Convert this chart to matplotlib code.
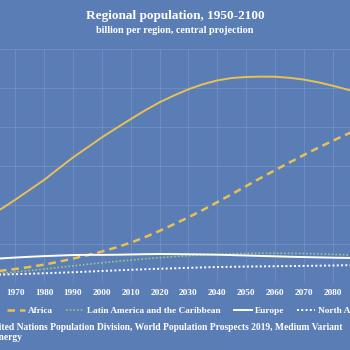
import matplotlib
matplotlib.use("Agg")
import matplotlib.pyplot as plt

years = list(range(1950, 2101, 5))

# billions, UN WPP 2019 medium variant (5-year steps)
asia = [1.405, 1.546, 1.705, 1.900, 2.142, 2.396, 2.650, 2.941, 3.226, 3.482, 3.741,
        3.977, 4.209, 4.434, 4.641, 4.816, 4.974, 5.104, 5.202, 5.264, 5.290, 5.300,
        5.297, 5.270, 5.225, 5.155, 5.067, 4.970, 4.876, 4.790, 4.720]
africa = [0.228, 0.254, 0.283, 0.319, 0.363, 0.415, 0.476, 0.548, 0.630, 0.717, 0.811,
          0.918, 1.039, 1.182, 1.341, 1.512, 1.688, 1.878, 2.077, 2.282, 2.489, 2.696,
          2.897, 3.094, 3.288, 3.474, 3.652, 3.822, 3.983, 4.135, 4.280]
latam = [0.169, 0.193, 0.220, 0.252, 0.287, 0.324, 0.362, 0.402, 0.443, 0.484, 0.522,
         0.558, 0.591, 0.624, 0.654, 0.682, 0.706, 0.726, 0.741, 0.754, 0.762, 0.767,
         0.768, 0.765, 0.759, 0.751, 0.740, 0.726, 0.710, 0.695, 0.680]
europe = [0.549, 0.577, 0.605, 0.635, 0.657, 0.677, 0.694, 0.708, 0.721, 0.727, 0.726,
          0.729, 0.736, 0.743, 0.748, 0.745, 0.741, 0.736, 0.730, 0.720, 0.710, 0.699,
          0.688, 0.678, 0.669, 0.661, 0.653, 0.647, 0.641, 0.635, 0.630]
namerica = [0.173, 0.187, 0.205, 0.219, 0.231, 0.242, 0.254, 0.267, 0.280, 0.296, 0.312,
            0.328, 0.343, 0.357, 0.369, 0.381, 0.393, 0.404, 0.414, 0.420, 0.425, 0.430,
            0.434, 0.438, 0.443, 0.448, 0.453, 0.460, 0.470, 0.480, 0.491]

xticks = list(range(1950, 2101, 10))
yticks = [0, 1, 2, 3, 4, 5, 6]

bg = '#5b7db5'
gold = '#e8c055'
green = '#9cc48a'
serif = 'Liberation Serif'

fig = plt.figure(figsize=(3.5, 3.5), dpi=100, facecolor=bg)
# the plot area runs past the edges of the picture
ax = fig.add_axes([-0.121, 0.191, 1.236, 0.668], facecolor=bg)

ax.plot(years, asia, color=gold, lw=1.4, label='Asia')
ax.plot(years, africa, color=gold, lw=1.8, ls=(0, (3, 2)), label='Africa')
ax.plot(years, latam, color=green, lw=1.2, ls=(0, (1, 1.2)), label='Latin America and the Caribbean')
ax.plot(years, europe, color='white', lw=1.4, label='Europe')
ax.plot(years, namerica, color='white', lw=1.4, ls=(0, (1, 1.2)), label='North America')

ax.set_xlim(1950, 2100)
ax.set_ylim(0, 6)
ax.set_xticks(xticks)
ax.set_yticks(yticks)
ax.grid(True, color='#7190c0', lw=0.6)
ax.set_axisbelow(True)
for s in ax.spines.values():
    s.set_visible(False)
ax.tick_params(length=0, colors='white', pad=4.5)
for lab in ax.get_xticklabels() + ax.get_yticklabels():
    lab.set_fontfamily(serif)
    lab.set_fontweight('bold')
    lab.set_fontsize(6.7)

fig.text(0.5, 0.953, 'Regional population, 1950-2100', ha='center', va='center',
         color='white', fontfamily=serif, fontweight='bold', fontsize=9.5)
fig.text(0.5, 0.913, 'billion per region, central projection', ha='center', va='center',
         color='white', fontfamily=serif, fontweight='bold', fontsize=7.3)

leg = fig.legend(loc='center', bbox_to_anchor=(0.476, 0.111), ncol=5, frameon=False,
                 prop={'family': serif, 'weight': 'bold', 'size': 6.7},
                 handlelength=1.95, handletextpad=0.3, columnspacing=1.4)
for t in leg.get_texts():
    t.set_color('white')

fig.text(-0.133, 0.05, 'Source: United Nations Population Division, World Population Prospects 2019, Medium Variant\nChart by Energy',
         ha='left', va='center', color='white', fontfamily=serif, fontweight='bold', fontsize=6.85,
         linespacing=1.25)

fig.savefig('out.png', dpi=100, facecolor=bg)
